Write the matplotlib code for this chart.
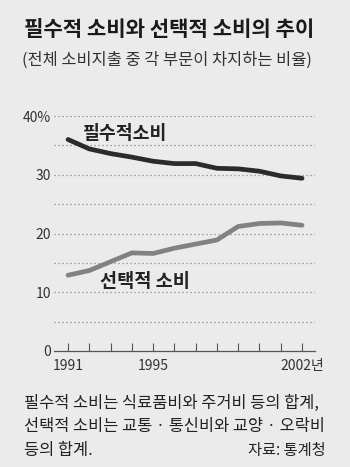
import matplotlib
matplotlib.use("Agg")
import matplotlib.pyplot as plt

plt.rcParams['font.family'] = ['Noto Sans CJK KR', 'DejaVu Sans']

years = list(range(1991, 2003))
necessary = [36.0, 34.4, 33.6, 33.0, 32.3, 31.9, 31.9, 31.1, 31.0, 30.6, 29.8, 29.4]
selective = [12.9, 13.7, 15.2, 16.7, 16.6, 17.5, 18.2, 18.9, 21.2, 21.7, 21.8, 21.4]
ytick_vals = [0, 10, 20, 30, 40]
ytick_labels = ['0', '10', '20', '30', '40%']
xtick_vals = [1991, 1995, 2002]
xtick_labels = ['1991', '1995', '2002년']

title = '필수적 소비와 선택적 소비의 추이'
subtitle = '(전체 소비지출 중 각 부문이 차지하는 비율)'
label_nec = '필수적소비'
label_sel = '선택적 소비'
note_lines = ['필수적 소비는 식료품비와 주거비 등의 합계,',
              '선택적 소비는 교통 · 통신비와 교양 · 오락비',
              '등의 합계.']
source = '자료: 통계청'

bg = '#ebebeb'
W, H = 350, 467
fig = plt.figure(figsize=(W / 100, H / 100), dpi=100, facecolor=bg)

ax = fig.add_axes([54 / W, 1 - 351 / H, (315 - 54) / W, (351 - 116) / H])
ax.set_facecolor(bg)
ax.set_xlim(1990.34, 2002.61)
ax.set_ylim(0, 40)

for v in range(5, 41, 5):
    ax.axhline(v, color='#8a8a8a', lw=0.9, ls=(0, (1, 2.2)), zorder=1)

ax.plot(years, necessary, color='#2b2b2b', lw=3.4, solid_capstyle='round',
        solid_joinstyle='round', zorder=3)
ax.plot(years, selective, color='#828282', lw=3.4, solid_capstyle='round',
        solid_joinstyle='round', zorder=3)

for s in ['top', 'right', 'left']:
    ax.spines[s].set_visible(False)
ax.spines['bottom'].set_color('#555555')
ax.spines['bottom'].set_linewidth(0.9)

ax.set_xticks(years)
ax.set_xticklabels([xtick_labels[xtick_vals.index(y)] if y in xtick_vals else '' for y in years])
ax.tick_params(axis='x', direction='in', length=6, width=0.8, color='#555555',
               labelsize=10, labelcolor='#333333', pad=6)
ax.set_yticks(ytick_vals)
ax.set_yticklabels(ytick_labels)
ax.tick_params(axis='y', length=0, labelsize=10, labelcolor='#333333', pad=2)

ax.text(1991.7, 37.0, label_nec, fontsize=13.2, fontweight='bold', color='#222222',
        ha='left', va='center', zorder=4)
ax.text(1992.5, 11.9, label_sel, fontsize=13.4, fontweight='bold', color='#222222',
        ha='left', va='center', zorder=4)

fig.text(24 / W, 1 - 29 / H, title, fontsize=15.2, fontweight='bold', color='#1a1a1a',
         ha='left', va='center')
fig.text(22 / W, 1 - 60 / H, subtitle, fontsize=11.8, color='#333333',
         ha='left', va='center')

for i, line in enumerate(note_lines):
    fig.text(24 / W, 1 - (403 + i * 23.5) / H, line, fontsize=11.8, color='#222222',
             ha='left', va='center')
fig.text(326 / W, 1 - 450 / H, source, fontsize=11, color='#222222',
         ha='right', va='center')

fig.savefig('out.png', dpi=100, facecolor=bg)
